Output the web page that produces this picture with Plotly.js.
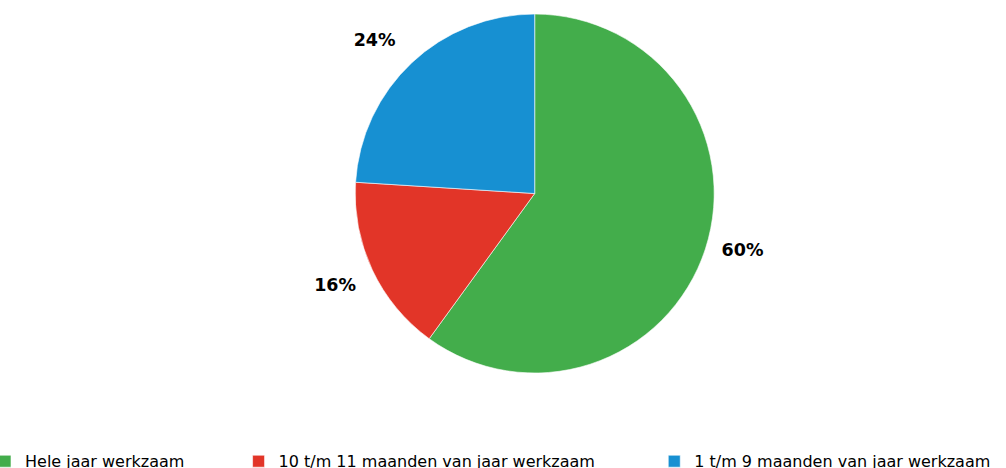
<!DOCTYPE html>
<html>
<head>
<meta charset="utf-8">
<script src="https://cdn.plot.ly/plotly-3.0.1.min.js"></script>
<style>
  html, body { margin: 0; padding: 0; background: #fff; }
  #chart { width: 1006px; height: 468px; }
</style>
</head>
<body>
<div id="chart"></div>
<script>
// share of workers by months worked per year
const labels = ['Hele jaar werkzaam', '10 t/m 11 maanden van jaar werkzaam', '1 t/m 9 maanden van jaar werkzaam'];
const shares = [60, 16, 24];
const colors = ['#43ad4b', '#e23528', '#1790d2'];

// trailing spaces spread legend items like the original
const nb = n => '\u00a0'.repeat(n);
const legendPad = [nb(12) + '\u2009', nb(13) + '\u2009', ''];

// padding pushes the outside labels a bit further from the rim
const labelTpl = [
  nb(2) + '<b>%{percent:.0%}</b>' + nb(2),
  nb(1) + '<br>' + nb(1) + '<b>%{percent:.0%}</b>' + nb(1),
  nb(1) + '<b>%{percent:.0%}</b>' + nb(1) + '<br>' + nb(1)
];

Plotly.newPlot('chart', [{
  type: 'pie',
  labels: labels.map((l, i) => l + legendPad[i]),
  values: shares,
  sort: false,
  direction: 'clockwise',
  rotation: 0,
  marker: {colors, line: {color: '#ffffff', width: 0.6}},
  texttemplate: labelTpl,
  textposition: 'outside',
  outsidetextfont: {family: 'DejaVu Sans', size: 17.5, color: '#000'},
  domain: {x: [0.33, 0.733], y: [0.203, 0.970]},
  hoverinfo: 'label+percent'
}], {
  width: 1006,
  height: 468,
  paper_bgcolor: '#fff',
  margin: {l: 0, r: 0, t: 0, b: 0, autoexpand: false},
  showlegend: true,
  legend: {
    orientation: 'h',
    x: 0, xanchor: 'left',
    y: -0.022, yanchor: 'bottom',
    indentation: -15,
    font: {family: 'DejaVu Sans', size: 16, color: '#000'},
    traceorder: 'normal'
  }
}, {
  displayModeBar: false
});
</script>
</body>
</html>
